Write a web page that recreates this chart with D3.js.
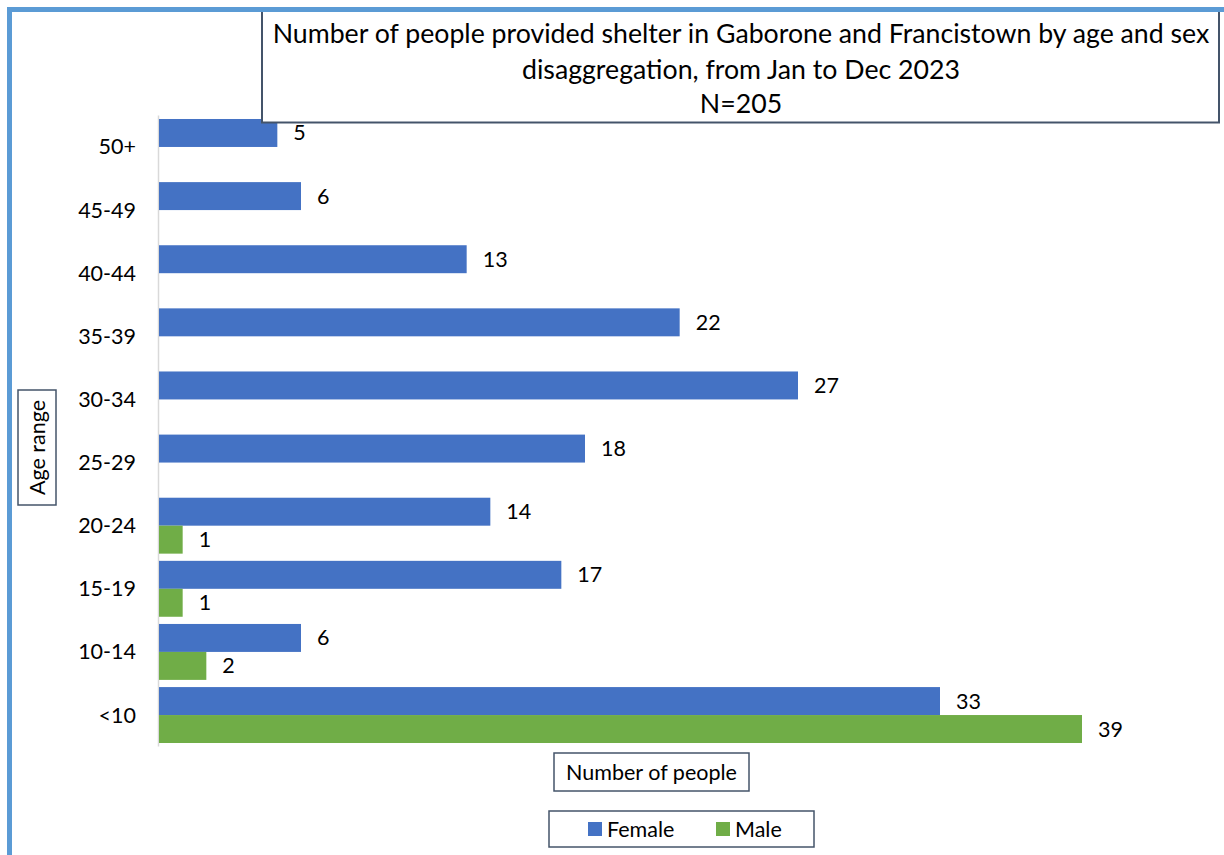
<!DOCTYPE html>
<html><head><meta charset="utf-8">
<script src="https://cdn.jsdelivr.net/npm/d3@7"></script>
<style>body{margin:0;background:#fff}svg{display:block}text{font-family:Lato,"Open Sans",sans-serif;fill:#000}</style>
</head><body><svg id="c" width="1224" height="855"></svg>
<script>
const categories = ["50+","45-49","40-44","35-39","30-34","25-29","20-24","15-19","10-14","<10"];
const female = [5,6,13,22,27,18,14,17,6,33];
const male = [0,0,0,0,0,0,1,1,2,39];
const seriesNames = ["Female","Male"];
const seriesColors = ["#4472C4","#70AD47"];
const titleLines = ["Number of people provided shelter in Gaborone and Francistown by age and sex","disaggregation, from Jan to Dec 2023","N=205"];

const svg = d3.select("#c");
const fs = 21.5;
const x = d3.scaleLinear().domain([0,39]).range([159,1082]);
const y = d3.scaleBand().domain(categories).range([115.4,746.6]).paddingInner(0.114).paddingOuter(0.057);
const ys = d3.scaleBand().domain(seriesNames).range([0,y.bandwidth()]);

// axis line
svg.append("line").attr("x1",158.5).attr("x2",158.5).attr("y1",115.4).attr("y2",746.6).attr("stroke","#d9d9d9").attr("stroke-width",1.5);

const rows = categories.map((c,i)=>({c, vals:[female[i],male[i]]}));
const g = svg.selectAll("g.cat").data(rows).join("g").attr("transform",d=>`translate(0,${y(d.c)})`);
g.selectAll("rect").data(d=>d.vals.map((v,k)=>({v,k}))).join("rect")
  .attr("x",x(0)).attr("y",d=>ys(seriesNames[d.k])).attr("height",ys.bandwidth())
  .attr("width",d=>x(d.v)-x(0)).attr("fill",d=>seriesColors[d.k]);
g.selectAll("text.lab").data(d=>d.vals.map((v,k)=>({v,k})).filter(e=>e.v>0)).join("text").attr("class","lab")
  .attr("x",d=>x(d.v)+16).attr("y",d=>ys(seriesNames[d.k])+ys.bandwidth()/2).attr("dy","0.35em")
  .attr("font-size",fs).text(d=>d.v);

// y tick labels
const yAxis = d3.axisLeft(y).tickSize(0).tickPadding(0);
const ya = svg.append("g").attr("transform","translate(136,0)").call(yAxis);
ya.select(".domain").remove();
ya.selectAll("text").attr("font-size",fs).attr("font-family","Lato").attr("fill","#000").attr("dy","0.35em");

// y axis title
svg.append("rect").attr("x",18).attr("y",390).attr("width",38).attr("height",115).attr("fill","#fff").attr("stroke","#44546A").attr("stroke-width",1.5);
svg.append("text").attr("transform","translate(37,447.5) rotate(-90)").attr("text-anchor","middle").attr("dy","0.35em").attr("font-size",fs).text("Age range");

// x axis title
svg.append("rect").attr("x",554).attr("y",753).attr("width",195).attr("height",38).attr("fill","#fff").attr("stroke","#44546A").attr("stroke-width",1.5);
svg.append("text").attr("x",651.5).attr("y",772).attr("dy","0.35em").attr("text-anchor","middle").attr("font-size",fs).text("Number of people");

// legend
svg.append("rect").attr("x",549).attr("y",811).attr("width",265).attr("height",36).attr("fill","#fff").attr("stroke","#44546A").attr("stroke-width",1.5);
const lx = [588,716];
seriesNames.forEach((s,i)=>{
  svg.append("rect").attr("x",lx[i]).attr("y",822).attr("width",14).attr("height",14).attr("fill",seriesColors[i]);
  svg.append("text").attr("x",lx[i]+19).attr("y",829).attr("dy","0.35em").attr("font-size",fs).text(s);
});

// title box
svg.append("rect").attr("x",262).attr("y",8).attr("width",957).attr("height",114.5).attr("fill","#fff").attr("stroke","#44546A").attr("stroke-width",2);
const ty=[34,70,104];
titleLines.forEach((t,i)=>svg.append("text").attr("x",741).attr("y",ty[i]).attr("dy","0.35em").attr("text-anchor","middle").attr("font-size",26.7).text(t));

// outer border
svg.append("path").attr("d","M9.5,855 L9.5,9.5 L1224,9.5").attr("fill","none").attr("stroke","#5B9BD5").attr("stroke-width",5);
</script></body></html>
